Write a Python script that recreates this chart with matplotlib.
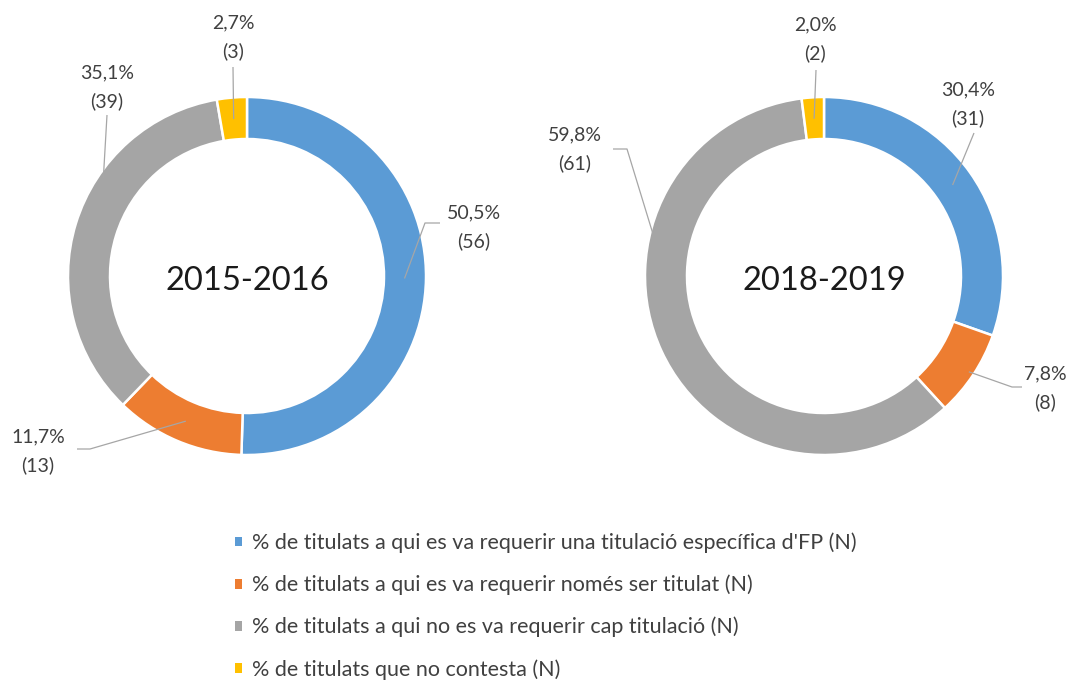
import matplotlib
matplotlib.use("Agg")
import matplotlib.pyplot as plt
from matplotlib.patches import Patch
import numpy as np

plt.rcParams['font.family'] = ['Lato', 'DejaVu Sans']

# ---- data ----
categories = [
    "% de titulats a qui es va requerir una titulació específica d'FP (N)",
    "% de titulats a qui es va requerir només ser titulat (N)",
    "% de titulats a qui no es va requerir cap titulació (N)",
    "% de titulats que no contesta (N)",
]
periods = ["2015-2016", "2018-2019"]
pct_2015 = [50.5, 11.7, 35.1, 2.7]
n_2015 = [56, 13, 39, 3]
pct_2018 = [30.4, 7.8, 59.8, 2.0]
n_2018 = [31, 8, 61, 2]

colors = ['#5B9BD5', '#ED7D31', '#A5A5A5', '#FFC000']
W, H = 1083, 690

def P(x, y):
    return (x, H - y)

fig = plt.figure(figsize=(W / 100, H / 100), dpi=100)
ax = fig.add_axes([0, 0, 1, 1])

R = 179
RING = 42
txt_col = '#404040'
lead_col = '#A6A6A6'

charts = [
    dict(center=(247, 276), pct=pct_2015, n=n_2015, title=periods[0],
         labels=[(474, 213), (38, 437), (107, 73), (233, 23)],
         leaders=[[(440, 223), (425, 223)], [(77, 449), (90, 449)],
                  [(107, 115)], [(233, 67)]],
         anchor=[(0.5, 0.88), (0.5, 0.88), (0.635, 0.97), (0.5, 0.88)]),
    dict(center=(824, 276), pct=pct_2018, n=n_2018, title=periods[1],
         labels=[(968, 90), (1045, 374), (575, 135), (815, 25)],
         leaders=[[(974, 133)], [(1022, 387), (1012, 387)],
                  [(613, 149), (627, 149)], [(816, 70)]],
         anchor=[(0.5, 0.88), (0.5, 0.97), (0.68, 0.985), (0.5, 0.88)]),
]

for ch in charts:
    cx, cy = P(*ch['center'])
    wedges, _ = ax.pie(ch['pct'], colors=colors, startangle=90, counterclock=False,
                       radius=R, center=(cx, cy),
                       wedgeprops=dict(width=RING, edgecolor='white', linewidth=1.8))
    ax.text(cx, cy - 5, ch['title'], ha='center', va='center', fontsize=23.5,
            color='#1a1a1a')
    for i, w in enumerate(wedges):
        f, rf = ch['anchor'][i]
        ang = np.deg2rad(w.theta2 - f * (w.theta2 - w.theta1))
        ax_pt = (cx + rf * R * np.cos(ang), cy + rf * R * np.sin(ang))
        pts = [P(*p) for p in ch['leaders'][i]] + [ax_pt]
        xs, ys = zip(*pts)
        ax.plot(xs, ys, color=lead_col, lw=0.9, solid_capstyle='butt')
        lx, ly = ch['labels'][i]
        ax.text(*P(lx, ly), f"{ch['pct'][i]:.1f}%".replace('.', ','), ha='center',
                va='center', fontsize=14, color=txt_col)
        ax.text(*P(lx, ly + 28), f"({ch['n'][i]})", ha='center', va='center',
                fontsize=14, color=txt_col)

handles = [Patch(facecolor=c, edgecolor='none') for c in colors]
leg = ax.legend(handles, categories, loc='upper left',
                bbox_to_anchor=(226 / W, 1 - 524 / H), frameon=False,
                fontsize=15.5, handlelength=0.33, handleheight=0.33,
                handletextpad=0.5, labelspacing=1.0, borderaxespad=0)
for t in leg.get_texts():
    t.set_color(txt_col)

ax.set_xlim(0, W)
ax.set_ylim(0, H)
ax.set_aspect('equal')
ax.axis('off')
fig.savefig('out.png', dpi=100, facecolor='white')
